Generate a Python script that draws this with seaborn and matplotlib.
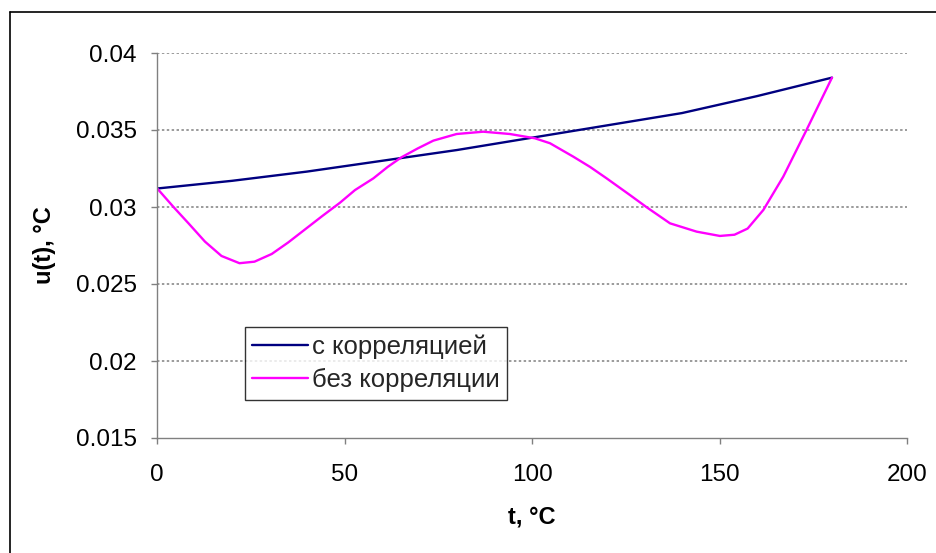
import matplotlib
matplotlib.use("Agg")
import matplotlib.pyplot as plt
from matplotlib.lines import Line2D
import seaborn as sns
import pandas as pd

# ---- data ----
t_corr = [0, 20, 40, 60, 80, 100, 120, 140, 160, 180]
u_corr = [0.0312, 0.0317, 0.0323, 0.0330, 0.0337, 0.0345, 0.0353, 0.0361, 0.0372, 0.0384]

t_nocorr = [0, 4.4, 8.4, 12.8, 17.2, 22, 26, 30.6, 35, 39.5, 44, 48.8, 52.8, 57.7,
            61.5, 65.2, 69.5, 73.7, 79.9, 87, 94.1, 100.8, 104.8, 111, 115.5, 119.9,
            126.1, 130.6, 136.8, 143.9, 150.1, 154, 157.5, 161.7, 167, 173.2, 180]
u_nocorr = [0.03122, 0.0300, 0.02894, 0.02775, 0.02682, 0.02635, 0.02645, 0.02695,
            0.0277, 0.02855, 0.0294, 0.03028, 0.0311, 0.03186, 0.0326, 0.03323, 0.0338,
            0.03431, 0.03474, 0.03489, 0.03474, 0.03446, 0.03414, 0.03327, 0.0326,
            0.03186, 0.03078, 0.02998, 0.02894, 0.0284, 0.02812, 0.0282, 0.0286,
            0.02981, 0.03197, 0.0350, 0.0384]

series_names = ["с корреляцией", "без корреляции"]
series_colors = ["#000080", "#FF00FF"]

x_ticks = [0, 50, 100, 150, 200]
y_ticks = [0.015, 0.02, 0.025, 0.03, 0.035, 0.04]
y_tick_labels = ["0.015", "0.02", "0.025", "0.03", "0.035", "0.04"]
x_label = "t, °C"
y_label = "u(t), °C"

df = pd.concat([
    pd.DataFrame({"t": t_corr, "u": u_corr, "series": series_names[0]}),
    pd.DataFrame({"t": t_nocorr, "u": u_nocorr, "series": series_names[1]}),
], ignore_index=True)

sns.set_style("white")
plt.rcParams["font.family"] = ["Liberation Sans", "DejaVu Sans"]
plt.rcParams["lines.solid_joinstyle"] = "round"

fig = plt.figure(figsize=(9.36, 5.53), dpi=100)
ax = fig.add_axes([157 / 936, 1 - 438 / 553, 750 / 936, 385 / 553])

sns.lineplot(data=df, x="t", y="u", hue="series", hue_order=series_names,
             palette=dict(zip(series_names, series_colors)), linewidth=1.7,
             sort=False, ax=ax, legend=True)

ax.set_xlim(0, 200)
ax.set_ylim(0.015, 0.04)
ax.set_xticks(x_ticks)
ax.set_xticklabels([str(v) for v in x_ticks])
ax.set_yticks(y_ticks)
ax.set_yticklabels(y_tick_labels)

grid_color = "#808080"
for v in y_ticks[1:]:
    ax.axhline(v, color=grid_color, linestyle=(0, (1.6, 1.6)), linewidth=1.1, zorder=0)

for s in ["top", "right"]:
    ax.spines[s].set_visible(False)
for s in ["left", "bottom"]:
    ax.spines[s].set_color(grid_color)
    ax.spines[s].set_linewidth(1.0)

ax.tick_params(axis="both", which="major", direction="out", length=4.5, width=1,
               color=grid_color, labelsize=17.5, labelcolor="black",
               left=True, bottom=True)
ax.tick_params(axis="x", pad=14)
ax.tick_params(axis="y", pad=10)

ax.set_xlabel(x_label, fontsize=17, fontweight="bold", color="black")
ax.set_ylabel(y_label, fontsize=17, fontweight="bold", color="black")
ax.xaxis.set_label_coords(0.5, -0.175)
ax.yaxis.set_label_coords(-0.135, 0.5)

handles, labels = ax.get_legend_handles_labels()
leg = ax.legend(handles, labels, loc="lower left", bbox_to_anchor=(0.117, 0.099),
                borderaxespad=0, fontsize=18.5, frameon=True, fancybox=False,
                shadow=False, handlelength=2.15, handletextpad=0.15,
                borderpad=0.3, labelspacing=0.35)
leg.get_frame().set_edgecolor("black")
leg.get_frame().set_linewidth(1.0)
leg.get_frame().set_facecolor("white")
for line in leg.get_lines():
    line.set_linewidth(1.7)

# outer chart-area border (top and left edges visible)
fig.add_artist(Line2D([10 / 936, 1.0], [1 - 12 / 553, 1 - 12 / 553],
                      transform=fig.transFigure, color="black", linewidth=1.2))
fig.add_artist(Line2D([10 / 936, 10 / 936], [0.0, 1 - 12 / 553],
                      transform=fig.transFigure, color="black", linewidth=1.2))

fig.savefig("out.png", dpi=100)
